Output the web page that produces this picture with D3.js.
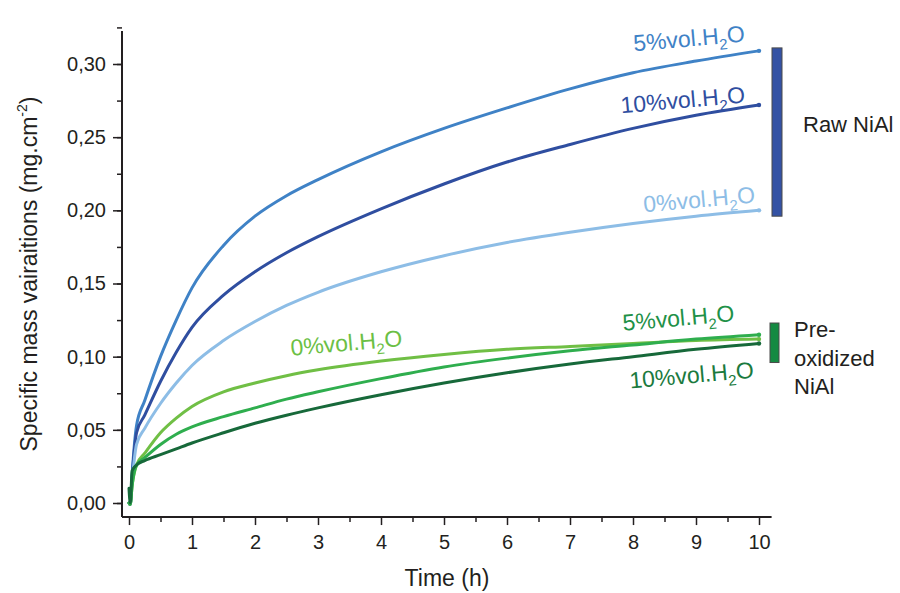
<!DOCTYPE html>
<html>
<head>
<meta charset="utf-8">
<script src="https://cdn.jsdelivr.net/npm/d3@7"></script>
<style>
  body { margin: 0; background: #fff; }
  svg { display: block; font-family: "Liberation Sans", Arial, sans-serif; }
</style>
</head>
<body>
<svg id="chart" width="900" height="593"></svg>
<script>
// ---- data ----
const time   = [0, 0.02, 0.05, 0.12, 0.25, 0.5, 0.75, 1, 1.5, 2, 2.5, 3, 4, 5, 6, 7, 8, 9, 10];
const raw5   = [0, -0.001, 0.02, 0.053, 0.07, 0.1, 0.125, 0.147, 0.176, 0.196, 0.21, 0.221, 0.24, 0.256, 0.27, 0.283, 0.294, 0.302, 0.309];
const raw10  = [0, -0.001, 0.018, 0.048, 0.06, 0.083, 0.103, 0.12, 0.142, 0.158, 0.171, 0.182, 0.201, 0.218, 0.233, 0.245, 0.256, 0.265, 0.272];
const raw0   = [0, -0.001, 0.015, 0.04, 0.051, 0.068, 0.082, 0.094, 0.111, 0.124, 0.135, 0.144, 0.158, 0.169, 0.178, 0.185, 0.191, 0.196, 0.2];
const pre0   = [0, -0.001, 0.012, 0.026, 0.034, 0.048, 0.058, 0.066, 0.076, 0.082, 0.087, 0.091, 0.097, 0.1015, 0.105, 0.107, 0.109, 0.111, 0.112];
const pre5   = [0, -0.001, 0.012, 0.026, 0.031, 0.04, 0.047, 0.052, 0.059, 0.065, 0.071, 0.076, 0.085, 0.093, 0.099, 0.104, 0.108, 0.112, 0.115];
const pre10  = [0.01, 0, 0.022, 0.026, 0.029, 0.033, 0.037, 0.041, 0.048, 0.0545, 0.06, 0.065, 0.074, 0.082, 0.089, 0.095, 0.1, 0.105, 0.109];

const seriesNames  = ["Raw 5%", "Raw 10%", "Raw 0%", "Pre 0%", "Pre 5%", "Pre 10%"];
const seriesValues = [raw5, raw10, raw0, pre0, pre5, pre10];
const seriesColors = ["#3f82c6", "#2f4ea0", "#8dbde6", "#70bf45", "#2fae4e", "#17693a"];
const labelColors  = ["#3f82c6", "#2f4ea0", "#8dbde6", "#6cbf45", "#1f9148", "#1b7a3e"];
const labelText    = ["5%vol.H", "10%vol.H", "0%vol.H", "0%vol.H", "5%vol.H", "10%vol.H"];
// label anchor in data units (time, value) : centre of baseline
const labelT = [8.9, 8.8, 9.06, 3.46, 8.73, 8.94];
const labelV = [0.312, 0.27, 0.202, 0.104, 0.121, 0.082];

const xTicks = [0,1,2,3,4,5,6,7,8,9,10];
const yTicks = [0, 0.05, 0.10, 0.15, 0.20, 0.25, 0.30];
const groupNames = ["Raw NiAl", ["Pre-", "oxidized", "NiAl"]];
const groupRanges = [[0.196, 0.311], [0.096, 0.123]];
const groupColors = ["#3452a4", "#158a42"];

// ---- layout ----
const svg = d3.select("#chart");
const x = d3.scaleLinear().domain([0, 10]).range([129, 759]);
const y = d3.scaleLinear().domain([0, 0.30]).range([503, 64]);
const locale = d3.formatLocale({decimal: ",", thousands: ".", grouping: [3], currency: ["", ""]});
const fmt = locale.format(".2f");

const axisColor = "#231f20";
const xAxisY = y(-0.0096);
const yAxisX = x(-0.111);

// y axis
const gy = svg.append("g").attr("transform", `translate(${yAxisX},0)`);
gy.call(d3.axisLeft(y).tickValues(d3.range(0, 0.3251, 0.025)).tickSize(5).tickFormat(""))
  .call(g => g.select(".domain").remove());
gy.append("g").call(d3.axisLeft(y).tickValues(yTicks).tickSize(9).tickPadding(7).tickFormat(fmt))
  .call(g => g.select(".domain").remove())
  .call(g => g.selectAll("text").attr("font-size", 20).attr("fill", axisColor).attr("font-family", "Liberation Sans, Arial, sans-serif"));
gy.selectAll("line").attr("stroke", axisColor).attr("stroke-width", 1.5);
svg.append("line").attr("x1", yAxisX).attr("x2", yAxisX).attr("y1", y(0.3225)).attr("y2", xAxisY)
  .attr("stroke", axisColor).attr("stroke-width", 2);

// x axis
const gx = svg.append("g").attr("transform", `translate(0,${xAxisY})`);
gx.call(d3.axisBottom(x).tickValues(d3.range(0.5, 10, 1)).tickSize(5).tickFormat(""))
  .call(g => g.select(".domain").remove());
gx.append("g").call(d3.axisBottom(x).tickValues(xTicks).tickSize(8).tickPadding(10).tickFormat(d3.format("d")))
  .call(g => g.select(".domain").remove())
  .call(g => g.selectAll("text").attr("font-size", 20).attr("fill", axisColor).attr("font-family", "Liberation Sans, Arial, sans-serif"));
gx.selectAll("line").attr("stroke", axisColor).attr("stroke-width", 1.5);
svg.append("line").attr("x1", yAxisX).attr("x2", x(10.2)).attr("y1", xAxisY).attr("y2", xAxisY)
  .attr("stroke", axisColor).attr("stroke-width", 2);

// axis titles
svg.append("text").attr("x", (x(0) + x(10)) / 2 + 3).attr("y", 586)
  .attr("text-anchor", "middle").attr("font-size", 23).attr("fill", axisColor).text("Time (h)");
const yt = svg.append("text").attr("transform", `translate(37,274) rotate(-90)`)
  .attr("text-anchor", "middle").attr("font-size", 23).attr("fill", axisColor);
yt.append("tspan").text("Specific mass vairaitions (mg.cm");
yt.append("tspan").attr("font-size", 14).attr("dy", -10).text("-2");
yt.append("tspan").attr("dy", 10).text(")");

// lines
const line = d3.line().x(d => x(d[0])).y(d => y(d[1])).curve(d3.curveMonotoneX);
seriesValues.forEach((vals, i) => {
  const pts = time.map((t, k) => [t, vals[k]]);
  svg.append("path").datum(pts).attr("d", line).attr("fill", "none")
    .attr("stroke", seriesColors[i]).attr("stroke-width", 3).attr("stroke-linejoin", "round").attr("stroke-linecap", "round");
  const last = pts[pts.length - 1];
  svg.append("circle").attr("cx", x(last[0])).attr("cy", y(last[1])).attr("r", 2.2).attr("fill", seriesColors[i]);
});

// series labels
labelText.forEach((txt, i) => {
  const t = svg.append("text")
    .attr("transform", `translate(${x(labelT[i])},${y(labelV[i])}) rotate(-5)`)
    .attr("text-anchor", "middle").attr("font-size", 23).attr("fill", labelColors[i]);
  t.append("tspan").text(txt);
  t.append("tspan").attr("font-size", 15).attr("dy", 6).text("2");
  t.append("tspan").attr("dy", -6).text("O");
});

// group bars + labels
const bx = [772, 770];
const bw = [10, 9];
groupRanges.forEach((r, i) => {
  svg.append("rect").attr("x", bx[i]).attr("y", y(r[1])).attr("width", bw[i]).attr("height", y(r[0]) - y(r[1]))
    .attr("fill", groupColors[i]).attr("stroke", "#4a4a4a").attr("stroke-width", 1);
});
svg.append("text").attr("x", 803).attr("y", 132).attr("font-size", 22).attr("fill", axisColor).text(groupNames[0]);
const gt = svg.append("text").attr("x", 794).attr("y", 337).attr("font-size", 22).attr("fill", axisColor);
groupNames[1].forEach((s, k) => gt.append("tspan").attr("x", 794).attr("dy", k === 0 ? 0 : 28.5).text(s));
</script>
</body>
</html>
